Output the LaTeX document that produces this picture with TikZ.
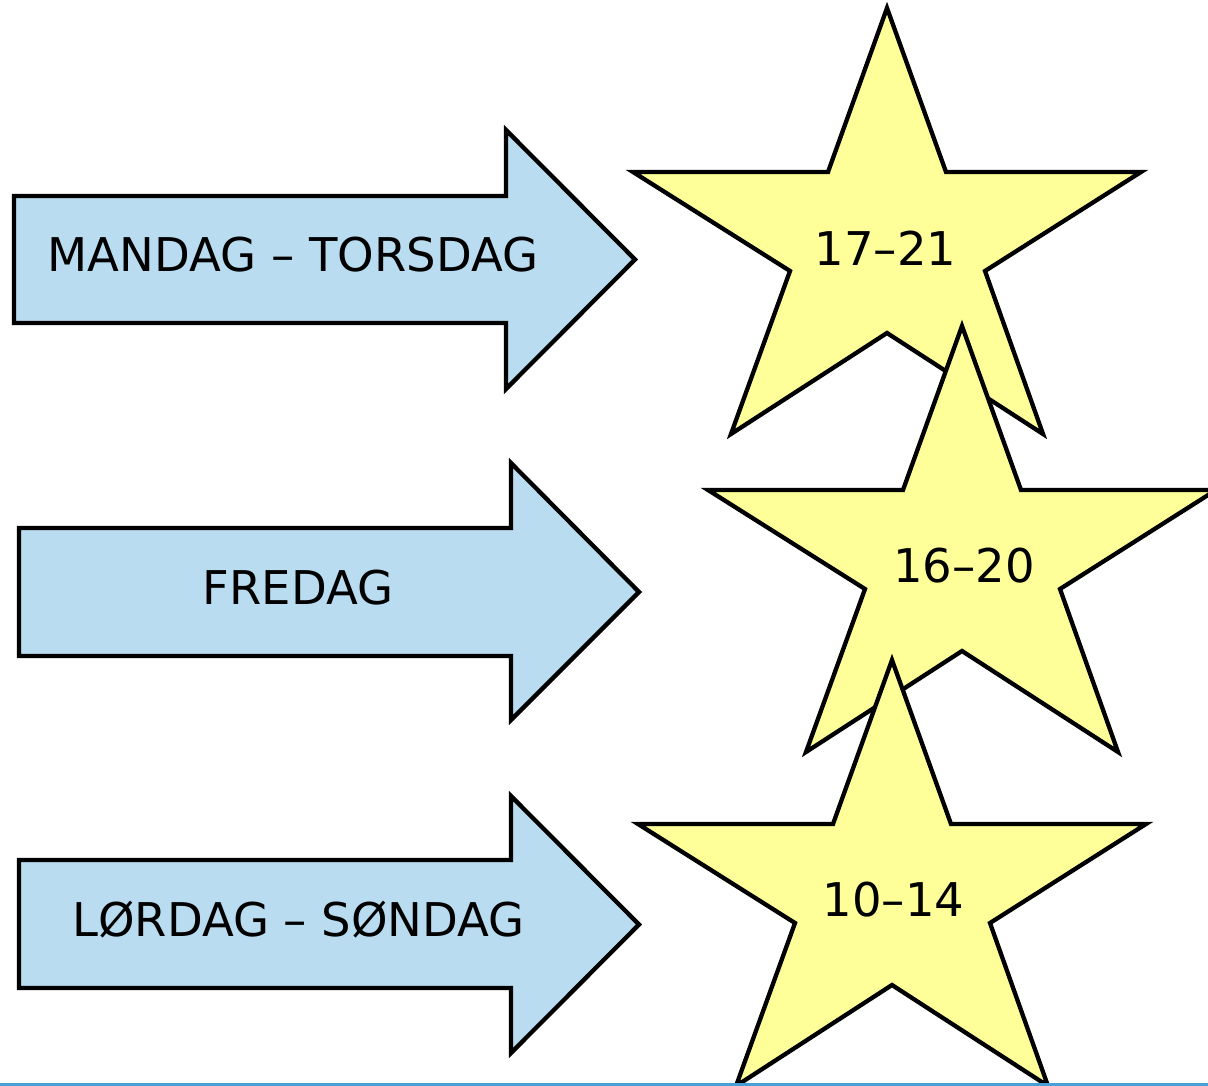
\documentclass[tikz,border=0pt]{standalone}
\usepackage{fontspec}
\setmainfont{DejaVu Sans}
\definecolor{arrowblue}{RGB}{185,220,240}
\definecolor{staryellow}{RGB}{255,255,153}
\definecolor{linebluebottom}{RGB}{70,160,214}
\tikzset{
  arrowshape/.style={draw=black, fill=arrowblue, line width=4.3pt, line join=miter},
  starshape/.style={draw=black, fill=staryellow, line width=4.3pt, line join=miter},
  lbl/.style={anchor=base, inner sep=0pt, font=\fontsize{46.5}{56}\selectfont},
  star/.pic={
    \path[starshape] (0,0) -- (59,164) -- (254,164) -- (98,263) -- (156,426)
      -- (0,325) -- (-156,426) -- (-97,263) -- (-254,164) -- (-59,164) -- cycle;
  }
}
\begin{document}
\begin{tikzpicture}[x=1pt,y=-1pt]
\useasboundingbox[fill=white] (0,0) rectangle (1208,1086);
% arrows
\path[arrowshape] (14,196) -- (506,196) -- (506,130) -- (635,259.5) -- (506,389) -- (506,323) -- (14,323) -- cycle;
\path[arrowshape] (19,528) -- (511,528) -- (511,463) -- (639,592) -- (511,720) -- (511,656) -- (19,656) -- cycle;
\path[arrowshape] (19,860) -- (511,860) -- (511,796) -- (639,924.5) -- (511,1053) -- (511,988) -- (19,988) -- cycle;
\node[lbl] (a1) at (293,272) {MANDAG – TORSDAG};
\node[lbl] (a2) at (298,604.5) {FREDAG};
\node[lbl] (a3) at (298.5,936.5) {LØRDAG – SØNDAG};
% stars
\pic at (887,8) {star};
\node[lbl] (s1) at (885.5,265.5) {17–21};
\pic at (962,326) {star};
\node[lbl] (s2) at (964,582) {16–20};
\pic at (892,660) {star};
\node[lbl] (s3) at (893.5,916) {10–14};
% bottom line
\draw[linebluebottom, line width=3pt] (0,1084.5) -- (1208,1084.5);
\end{tikzpicture}
\end{document}
